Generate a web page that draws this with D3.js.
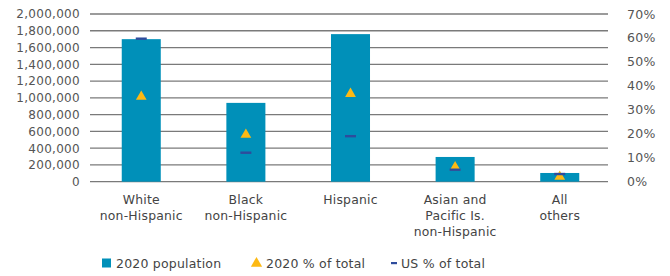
<!DOCTYPE html>
<html><head><meta charset="utf-8">
<script src="https://cdn.jsdelivr.net/npm/d3@7"></script>
<style>
body{margin:0;background:#fff;}
text{font-family:"DejaVu Sans",sans-serif;}
</style></head>
<body><svg id="c" width="670" height="276"></svg>
<script>
const categories = [["White","non-Hispanic"],["Black","non-Hispanic"],["Hispanic"],["Asian and","Pacific Is.","non-Hispanic"],["All","others"]];
const population = [1700000, 940000, 1760000, 295000, 104000];
const pctTotal = [0.355, 0.196, 0.367, 0.061, 0.021];
const usPct = [0.597, 0.121, 0.19, 0.05, 0.032];
const leftTicks = [0,200000,400000,600000,800000,1000000,1200000,1400000,1600000,1800000,2000000];
const rightTicks = [0,0.1,0.2,0.3,0.4,0.5,0.6,0.7];
const legendLabels = ["2020 population","2020 % of total","US % of total"];

const svg = d3.select("#c");
const x = d3.scaleBand().domain(d3.range(categories.length)).range([89,612]).paddingInner(0.627).paddingOuter(0.313);
const y = d3.scaleLinear().domain([0,2000000]).range([181.7,14]);
const y2 = d3.scaleLinear().domain([0,0.7]).range([181.7,14]);
const barC="#0090B9", triC="#FDB913", dashC="#2E4C9C";

svg.append("g").selectAll("line").data(leftTicks).join("line")
  .attr("x1",90).attr("x2",608).attr("y1",d=>y(d)).attr("y2",d=>y(d))
  .attr("stroke","#7a7a7a").attr("stroke-width",1.3);

const ga = svg.append("g").attr("transform","translate(80,0)")
  .call(d3.axisLeft(y).tickValues(leftTicks).tickSize(0).tickPadding(0).tickFormat(d3.format(",")));
ga.select(".domain").remove();
ga.selectAll("text").attr("font-size",12).attr("fill","#555").style("font-family","DejaVu Sans").attr("letter-spacing",0.3);

const gr = svg.append("g").attr("transform","translate(627,0)")
  .call(d3.axisRight(y2).tickValues(rightTicks).tickSize(0).tickPadding(0).tickFormat(d3.format(".0%")));
gr.select(".domain").remove();
gr.selectAll("text").attr("font-size",12.5).attr("fill","#555").style("font-family","DejaVu Sans").attr("letter-spacing",0.3);

svg.append("g").selectAll("rect").data(population).join("rect")
  .attr("x",(d,i)=>x(i)).attr("width",x.bandwidth())
  .attr("y",d=>y(d)).attr("height",d=>y(0)-y(d)).attr("fill",barC);

const tri = d3.symbol().type(d3.symbolTriangle).size(50);
svg.append("g").selectAll("path").data(pctTotal).join("path")
  .attr("d",tri).attr("fill",triC)
  .attr("transform",(d,i)=>`translate(${x(i)+x.bandwidth()/2},${y2(d)})`);

svg.append("g").selectAll("rect").data(usPct).join("rect")
  .attr("x",(d,i)=>x(i)+x.bandwidth()/2-5.5).attr("width",11)
  .attr("y",d=>y2(d)-1.2).attr("height",2.4).attr("fill",dashC);

const cg = svg.append("g");
categories.forEach((lines,i)=>{
  const t = cg.append("text").attr("x",x(i)+x.bandwidth()/2).attr("y",204)
    .attr("text-anchor","middle").attr("font-size",12.4).attr("letter-spacing",0.2).attr("fill","#444");
  lines.forEach((l,j)=>t.append("tspan").attr("x",x(i)+x.bandwidth()/2).attr("dy",j?16:0).text(l));
});

const lg = svg.append("g");
const ly = 263;
const lt = {"font-size":12.5,"letter-spacing":0.2,"fill":"#444"};
lg.append("rect").attr("x",102).attr("y",ly-4.5).attr("width",9).attr("height",9).attr("fill",barC);
lg.append("text").attr("x",116).attr("y",ly+4.5).attr("font-size",lt["font-size"]).attr("letter-spacing",lt["letter-spacing"]).attr("fill",lt.fill).text(legendLabels[0]);
lg.append("path").attr("d",d3.symbol().type(d3.symbolTriangle).size(55)).attr("fill",triC).attr("transform",`translate(256.5,${ly+0.5})`);
lg.append("text").attr("x",266).attr("y",ly+4.5).attr("font-size",lt["font-size"]).attr("letter-spacing",lt["letter-spacing"]).attr("fill",lt.fill).text(legendLabels[1]);
lg.append("rect").attr("x",391).attr("y",ly-1).attr("width",6).attr("height",2.2).attr("fill",dashC);
lg.append("text").attr("x",401).attr("y",ly+4.5).attr("font-size",lt["font-size"]).attr("letter-spacing",lt["letter-spacing"]).attr("fill",lt.fill).text(legendLabels[2]);
</script></body></html>
